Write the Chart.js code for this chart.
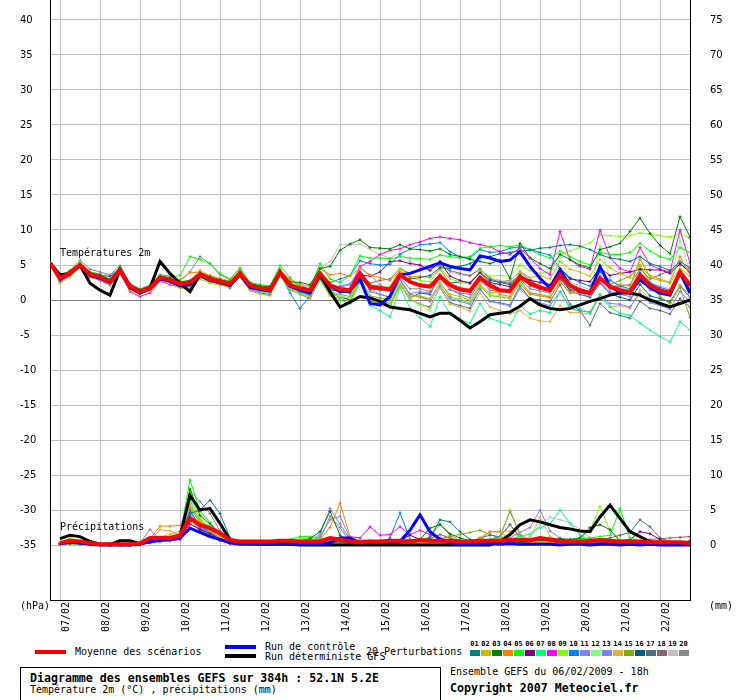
<!DOCTYPE html>
<html lang="fr">
<head>
<meta charset="utf-8">
<title>Diagramme des ensembles GEFS</title>
<script src="https://cdn.jsdelivr.net/npm/chart.js@4.4.1/dist/chart.umd.min.js"></script>
<style>
  body { margin: 0; background: #fff; color: #000; font-family: "DejaVu Sans Mono", monospace; }
  #page { position: relative; width: 740px; height: 700px; overflow: hidden; }
  #chartBox { position: absolute; left: 0; top: 0; width: 740px; height: 640px; }
  .t { position: absolute; white-space: pre; font-size: 10px; line-height: 12px; }
  .b { font-weight: bold; font-size: 11.6px; line-height: 14px; }
  .ln { position: absolute; width: 31px; height: 4px; }
  .sw { position: absolute; top: 650px; width: 10px; height: 6px; }
  .sn { position: absolute; top: 640px; width: 11px; text-align: center; font-size: 7px; font-weight: bold; line-height: 8px; }
  #titleBox { position: absolute; left: 20px; top: 667px; width: 419px; height: 40px; border: 1px solid #000; }
</style>
</head>
<body>
<div id="page">
  <div id="chartBox"><canvas id="ensChart" width="740" height="640"></canvas></div>
  <div class="t" style="left:20px;top:600px">(hPa)</div>
  <div class="t" style="left:709px;top:600px">(mm)</div>

  <div class="ln" style="left:35px;top:650px;background:#ff0000"></div>
  <div class="t" style="left:75px;top:646px">Moyenne des scénarios</div>
  <div class="ln" style="left:225px;top:645px;background:#0000ff"></div>
  <div class="t" style="left:265px;top:641px">Run de contrôle</div>
  <div class="ln" style="left:225px;top:654px;background:#000"></div>
  <div class="t" style="left:265px;top:651px">Run déterministe GFS</div>
  <div class="t" style="left:366px;top:646px">20 Perturbations</div>
  <div id="swatches"></div>

  <div id="titleBox"></div>
  <div class="t b" style="left:30px;top:671px">Diagramme des ensembles GEFS sur 384h : 52.1N 5.2E</div>
  <div class="t" style="left:30px;top:684px">Température 2m (°C) , précipitations (mm)</div>
  <div class="t" style="left:450px;top:666px">Ensemble GEFS du 06/02/2009 - 18h</div>
  <div class="t b" style="left:450px;top:681px">Copyright 2007 Meteociel.fr</div>
</div>
<script>
// Forecast hours (6-hourly, run of 06/02 18h)
const hours = [0,6,12,18,24,30,36,42,48,54,60,66,72,78,84,90,96,102,108,114,120,126,132,138,144,150,156,162,168,174,180,186,192,198,204,210,216,222,228,234,240,246,252,258,264,270,276,282,288,294,300,306,312,318,324,330,336,342,348,354,360,366,372,378,384];
const dayHours = [6,30,54,78,102,126,150,174,198,222,246,270,294,318,342,366];
const dayLabels = ["07/02","08/02","09/02","10/02","11/02","12/02","13/02","14/02","15/02","16/02","17/02","18/02","19/02","20/02","21/02","22/02"];
const tempTicks = [-35,-30,-25,-20,-15,-10,-5,0,5,10,15,20,25,30,35,40];
const precipTicks = [0,5,10,15,20,25,30,35,40,45,50,55,60,65,70,75];

const pertColors = ["#008080","#c0c000","#008000","#ff8000","#00ff00","#800080","#00ff80","#ff00ff","#80ff00","#0080ff",
                    "#8080ff","#80ff80","#8080f0","#e0b040","#80b000","#006080","#507080","#806870","#c0c0c0","#888888"];

// Temperature 2m (°C)
const tempMean = [5.3, 3.1,3.9,5.0,3.7, 3.3,2.6,4.3,1.9, 1.2,1.7,3.2,2.9, 2.3,2.5,3.7,3.0, 2.6,2.3,3.8,2.1, 1.7,1.5,4.0,2.1,
  1.7,1.4,3.8,2.1, 1.5,1.4,3.8,1.9, 1.7,1.5,3.6,2.6, 2.1,1.9,3.4,2.1, 1.5,1.3,3.2,2.1, 1.4,1.3,3.3,2.4, 1.8,1.4,3.6,2.1, 1.4,1.0,3.1,1.9, 1.4,1.1,3.6,2.1, 1.4,1.0,4.0,2.1];
const tempControl = [5.3, 3.0,3.8,5.0,3.5, 3.1,2.5,4.4,1.8, 1.0,1.6,3.0,2.7, 2.0,2.2,3.5,2.8, 2.5,2.1,3.6,1.8, 1.5,1.3,3.9,2.0,
  1.4,1.0,3.6,2.0, 1.2,1.3,3.0,-0.5, -0.7,0.5,3.6,3.8, 4.3,4.8,5.3,4.8, 4.5,4.3,6.3,6.0, 5.5,5.7,6.9,4.8, 3.1,1.7,4.3,2.1, 1.2,1.0,4.8,1.9, 1.1,1.0,2.9,1.8, 1.0,0.7,3.9,1.0];
const tempDeterministic = [5.3, 3.6,3.8,5.0,2.4, 1.4,0.7,4.3,1.8, 1.1,1.7,5.5,3.8, 2.4,1.2,3.6,2.9, 2.5,2.2,3.7,2.0, 1.6,1.4,3.9,2.0,
  1.6,1.3,3.6,1.2, -1.0,-0.3,0.5,0.3, -0.2,-1.0,-1.2,-1.4, -1.9,-2.4,-1.9,-1.9, -2.9,-4.0,-3.1,-2.1, -1.9,-1.7,-0.9,0.2, -0.7,-1.2,-1.4,-1.2, -0.7,-0.2,0.2,0.7, 1.0,1.0,0.7,0.0, -0.5,-1.0,-0.5,0.0];
const tempPerturbations = [
  [5.3, 2.8,3.6,4.8,3.4, 3.1,2.4,4.0,1.6, 1.0,1.5,3.0,2.6, 2.0,2.2,3.4,2.8, 2.4,2.0,3.6,1.8, 1.4,1.2,3.8,2.2,
   1.2,0.9,3.1,1.5, 1.2,1.0,3.2,1.6, 1.4,1.5,3.5,3.0, 3.2,3.5,4.6,4.5, 4.8,5.2,6.0,6.2, 6.6,6.8,7.0,7.1, 7.4,7.5,7.8,7.9, 7.7,7.2,6.5,6.0, 5.8,5.5,6.2,5.2, 4.8,4.2,5.5,4.6],
  [5.3, 2.4,3.3,4.6,3.2, 2.9,2.3,3.9,1.4, 0.8,1.3,2.8,2.4, 1.7,1.6,3.0,2.4, 2.1,1.8,3.3,1.3, 0.9,0.6,3.4,1.5,
   0.9,0.4,2.8,0.6, 0.2,-0.2,2.6,0.0, -0.6,-1.0,2.0,0.4, 0.6,0.2,2.4,0.8, 0.5,0.0,2.2,1.0, 1.2,1.5,4.0,3.2, 3.5,3.0,5.5,4.4, 4.0,3.4,5.8,4.6, 3.8,3.2,4.8,3.5, 3.0,2.4,4.5,3.4],
  [5.3, 3.3,4.1,5.2,3.9, 3.6,2.9,4.6,2.2, 1.5,2.0,3.4,3.1, 2.6,2.8,3.9,3.3, 2.9,2.6,4.0,2.4, 2.0,1.9,4.3,2.6,
   2.5,2.2,4.5,4.8, 7.1,8.0,8.6,7.5, 7.4,7.3,7.9,7.3, 7.2,7.0,7.3,6.5, 6.2,5.8,5.5,5.2, 5.7,3.1,8.1,6.0, 5.2,4.5,6.5,5.8, 5.0,4.6,7.2,7.6, 8.1,9.8,11.7,9.5, 7.8,6.6,11.9,9.0],
  [5.3, 3.2,4.0,5.1,3.8, 3.4,2.8,4.4,2.0, 1.4,1.9,3.3,2.7, 2.9,3.9,4.0,3.5, 3.1,2.7,4.2,2.3, 1.8,1.6,4.2,3.0,
   2.2,2.0,4.5,3.6, 3.8,3.4,4.6,3.5, 3.2,2.8,4.1,3.3, 3.4,3.2,4.4,2.4, 1.8,1.5,3.2,1.8, 0.8,0.5,2.8,1.0, 0.8,0.4,2.5,1.2, 1.0,0.8,3.0,1.8, 2.2,2.0,5.8,3.2, 2.8,2.5,6.2,3.5],
  [5.3, 3.4,4.2,5.3,4.0, 3.7,3.0,4.7,2.1, 1.3,1.8,3.5,3.2, 3.5,6.2,5.8,5.2, 3.8,3.0,4.6,2.5, 2.2,2.0,4.9,3.2,
   1.8,1.6,5.2,3.0, 2.5,3.5,6.3,6.0, 6.0,5.9,6.2,6.0, 5.9,5.8,6.4,6.2, 6.0,6.2,7.4,7.6, 7.8,7.6,7.9,7.2, 6.5,6.0,7.0,6.2, 5.5,5.0,6.8,6.5, 6.5,6.8,8.1,7.0, 6.2,5.8,7.5,6.8],
  [5.3, 3.0,3.8,4.9,3.5, 3.2,2.5,4.2,1.8, 1.1,1.6,3.1,2.8, 2.1,2.3,3.5,2.9, 2.5,2.2,3.7,2.0, 1.6,1.4,3.9,2.4,
   1.6,1.2,3.7,2.0, 1.4,1.3,3.6,3.4, 4.0,5.5,5.6,5.2, 5.0,4.2,5.5,3.4, 2.8,2.4,3.9,2.5, 2.2,1.9,3.5,2.8, 2.5,2.2,4.5,3.0, 2.8,2.6,4.6,3.5, 3.8,4.0,4.4,4.3, 4.3,3.8,5.2,4.0],
  [5.3, 2.9,3.7,4.8,3.6, 3.0,2.2,4.1,1.7, 0.9,1.4,2.9,2.5, 1.9,2.0,3.2,2.6, 2.2,1.9,3.4,1.7, 1.2,0.9,3.6,1.4,
   1.0,0.5,3.0,0.8, 0.0,-0.5,2.5,-0.8, -1.5,-2.4,1.8,-1.2, -2.5,-3.8,0.5,-2.0, -2.8,-3.3,-0.5,-2.6, -3.1,-3.6,-0.8,-2.0, -1.5,-1.8,1.2,-0.9, -1.2,-1.9,0.8,-1.0, -1.9,-2.2,-3.3,-4.3, -5.2,-6.0,-3.1,-4.3],
  [5.3, 2.7,3.5,4.7,3.3, 2.8,2.1,3.8,1.2, 0.5,1.0,2.7,2.2, 1.8,1.9,3.3,2.7, 2.3,1.7,3.5,1.5, 1.0,0.8,3.5,1.9,
   1.5,1.1,3.6,2.3, 1.8,1.6,4.8,5.5, 6.5,7.1,7.3,7.9, 8.3,8.8,9.0,8.8, 8.6,8.2,7.9,7.6, 6.9,6.5,7.4,6.0, 4.5,3.6,9.8,5.7, 4.8,4.4,10.0,6.1, 4.5,4.0,7.5,5.0, 4.4,4.0,10.0,5.3],
  [5.3, 3.3,4.0,5.1,3.8, 3.5,2.7,4.4,2.0, 1.4,1.9,3.3,3.0, 2.5,2.6,3.8,3.2, 2.8,2.5,4.1,2.3, 1.9,1.7,4.1,2.8,
   1.9,1.5,4.1,2.4, 1.6,1.5,4.0,2.2, 2.0,1.8,4.5,3.3, 2.8,2.6,4.6,3.0, 2.6,2.3,4.2,3.4, 3.5,3.4,5.0,4.2, 3.8,4.0,6.5,7.0, 7.5,8.2,9.3,9.2, 9.1,9.2,9.6,9.4, 9.2,9.0,9.5,8.8],
  [5.3, 3.1,3.9,5.0,3.6, 3.3,2.6,4.3,1.9, 1.2,1.7,3.2,2.9, 2.2,2.4,3.6,3.0, 2.6,2.3,3.9,2.1, 1.5,1.3,3.8,1.0,
   -1.2,0.6,3.5,2.5, 3.0,3.5,5.6,5.2, 5.0,5.1,6.5,7.3, 7.9,8.0,8.2,6.9, 6.2,6.0,7.2,6.8, 6.9,7.4,7.6,7.2, 6.8,6.4,4.5,3.2, 2.5,2.0,4.0,2.8, 2.0,1.6,3.9,2.5, 1.8,1.4,3.5,2.2],
  [5.3, 2.6,3.4,4.7,3.4, 3.0,2.3,3.9,1.5, 0.9,1.4,2.9,2.5, 1.9,2.1,3.3,2.7, 2.3,1.9,3.4,1.6, 1.3,1.0,3.7,1.7,
   0.8,0.2,2.8,1.2, 1.8,2.2,4.6,3.6, 2.2,1.3,3.0,0.8, 0.5,-0.2,2.0,0.2, -0.2,-0.6,1.5,-0.2, -0.5,-0.9,1.6,0.2, -0.4,-0.8,1.2,-1.2, -1.6,-1.7,0.8,-0.5, -0.6,-1.0,1.0,-0.4, -0.8,-1.3,1.2,-0.3],
  [5.3, 3.2,4.0,5.0,3.8, 3.4,2.7,4.4,2.0, 1.3,1.8,3.3,3.0, 2.4,2.6,3.8,3.1, 2.7,2.4,3.9,2.2, 1.8,1.6,4.1,2.5,
   1.3,1.0,3.4,1.4, 0.6,0.2,2.9,0.4, -0.2,-0.6,2.6,0.2, -0.8,-1.5,2.0,0.0, 0.2,-0.4,2.4,0.8, 0.6,0.3,2.6,1.0, 0.8,0.6,6.5,2.4, 1.2,0.8,7.8,3.0, 2.0,1.5,6.0,3.4, 3.0,2.5,8.5,4.2],
  [5.3, 2.9,3.7,4.9,3.5, 3.1,2.4,4.1,1.7, 1.0,1.5,3.0,2.7, 2.0,2.2,3.4,2.8, 2.4,2.1,3.6,1.9, 1.5,1.3,3.8,1.6,
   1.4,1.1,3.6,1.8, 2.0,2.3,3.9,1.2, 0.8,0.4,2.6,0.9, 1.2,1.0,3.0,1.5, 1.0,0.8,2.8,1.4, 1.2,1.0,3.0,1.6, 1.3,1.0,3.2,1.8, 1.0,0.6,2.6,1.2, 0.8,0.5,3.0,1.4, 1.0,0.6,3.4,1.6],
  [5.3, 3.0,3.8,4.9,3.6, 3.2,2.5,4.2,1.8, 1.1,1.6,3.1,2.8, 2.3,2.7,4.3,3.4, 2.7,2.2,3.7,2.0, 1.6,1.3,3.8,2.0,
   1.1,0.6,3.2,1.0, 0.5,0.3,3.0,0.2, -0.8,-1.0,2.2,0.2, -0.5,-1.2,1.8,-0.6, -1.0,-1.6,1.0,-1.0, -1.5,-2.0,-1.5,-2.6, -3.0,-3.1,-0.8,-1.8, -1.8,-2.0,0.5,-1.0, -0.8,-1.2,1.5,0.2, -0.5,-0.8,2.2,0.6],
  [5.3, 2.9,3.6,4.8,3.5, 3.1,2.5,4.1,1.7, 1.0,1.5,3.0,2.7, 2.1,2.3,3.5,2.8, 2.4,2.0,3.5,1.8, 1.4,1.1,3.6,1.9,
   1.0,0.7,3.2,1.1, 0.8,0.5,3.1,0.6, 0.3,0.0,2.8,0.8, 0.4,0.1,2.5,0.5, 0.0,-0.4,2.0,0.6, 0.5,0.2,2.4,0.8, 0.6,0.3,2.6,1.0, 1.0,0.8,3.4,2.2, 2.8,3.4,5.0,2.4, 0.5,-0.5,1.8,-2.5],
  [5.3, 3.1,3.9,5.0,3.7, 3.5,3.4,4.4,2.0, 1.2,1.7,3.2,2.9, 2.4,2.5,3.6,3.0, 2.6,2.3,3.8,2.2, 1.7,1.5,4.0,2.3,
   1.2,0.8,3.3,1.3, 0.6,0.0,2.7,-0.1, -0.5,-0.8,2.4,0.3, 1.0,0.8,3.6,2.4, 2.6,2.5,4.0,2.8, 2.5,2.2,3.6,2.2, 1.6,1.2,3.0,1.4, 0.8,0.4,2.4,0.9, 0.4,0.0,2.2,0.6, 0.2,-0.3,2.0,0.4],
  [5.3, 3.0,3.8,4.9,3.6, 3.3,2.7,4.3,1.9, 1.2,1.7,3.2,2.9, 2.3,2.4,3.6,2.9, 2.5,2.2,3.7,2.0, 1.6,1.4,3.9,2.0,
   1.1,0.7,3.1,1.0, 0.4,0.0,2.8,0.3, -0.2,-0.5,2.3,0.0, -0.6,-1.0,1.8,-0.4, -0.8,-1.2,1.6,-0.2, -0.4,-0.7,2.0,0.2, 0.0,-0.3,2.2,-0.6, -1.5,-3.6,-0.5,-1.8, -2.2,-2.6,-0.2,-1.2, -1.5,-2.0,0.2,-1.0],
  [5.3, 3.2,4.0,5.1,3.8, 3.4,2.8,4.5,2.1, 1.4,1.8,3.3,3.0, 2.4,2.6,3.8,3.1, 2.7,2.4,3.9,2.2, 1.8,1.6,4.1,2.2,
   1.6,1.3,3.7,2.0, 1.4,1.2,3.6,2.4, 2.8,3.0,4.5,3.8, 4.4,4.6,4.9,4.2, 3.8,3.5,4.4,3.0, 2.6,2.4,3.6,2.0, 1.5,1.3,3.2,1.5, 1.2,0.9,3.0,1.6, 2.0,2.2,4.4,3.0, 3.6,4.2,5.0,4.4],
  [5.3, 3.0,3.9,5.1,3.9, 3.8,3.5,4.6,2.2, 1.5,2.0,3.4,3.1, 2.5,2.7,3.9,3.3, 2.9,2.6,4.1,2.4, 2.0,1.8,4.2,2.7,
   2.0,1.8,4.6,5.5, 7.9,7.9,8.0,7.2, 6.5,6.0,6.8,5.5, 4.8,4.3,5.6,4.0, 3.6,3.4,4.5,3.2, 2.8,2.6,4.2,3.0, 2.5,2.0,3.8,2.6, 2.0,1.5,3.4,2.2, 1.8,1.4,3.6,2.3, 2.0,1.6,4.2,2.8],
  [5.3, 3.4,4.2,5.7,4.4, 4.0,3.6,4.9,2.4, 1.6,2.1,3.6,3.4, 2.7,4.0,6.2,5.2, 3.6,2.9,4.4,2.4, 2.0,1.8,4.3,2.6,
   1.5,1.2,3.6,1.8, 1.2,1.0,3.5,1.5, 0.8,0.4,3.2,1.6, 1.6,1.2,3.4,1.5, 0.8,0.3,2.6,1.8, 2.6,2.8,4.0,2.8, 2.0,1.4,3.6,2.2, 1.6,1.2,3.4,2.0, 1.4,1.0,3.6,2.0, 1.2,0.8,3.8,1.8]
];

// Precipitation (mm per 6h), from +6h to +384h
const precipMean = [0.3,0.6,0.5,0.3,0.1,0.1,0.1,0.1, 0.2,1.0,1.0,1.0,1.4,3.8,2.9,2.4, 1.7,0.7,0.5,0.5,0.5,0.5,0.6,0.6, 0.5,0.5,0.5,1.0,0.8,0.5,0.4,0.5,
  0.5,0.6,0.6,0.5,0.7,0.6,0.6,0.6, 0.5,0.5,0.6,0.6,0.6,0.7,0.7,0.7, 1.0,0.8,0.6,0.5,0.5,0.6,0.7,0.6, 0.5,0.5,0.5,0.4,0.4,0.4,0.4,0.3];
const precipControl = [0.2,0.4,0.3,0.1,0,0,0,0, 0.1,0.5,0.7,0.8,1.0,2.4,1.8,1.2, 0.8,0.3,0.1,0.1,0.1,0.1,0.1,0.1, 0.1,0.1,0.2,0.3,1.0,1.0,0.3,0.4,
  0.5,0.4,0.5,2.1,4.3,1.9,0.8,0.3, 0.2,0.1,0.1,0.2,0.1,0.2,0.1,0.1, 0.1,0.1,0,0.1,0.1,0,0.1,0.1, 0,0.1,0,0.1,0,0,0,0];
const precipDeterministic = [0.9,1.4,1.2,0.5,0.1,0.1,0.6,0.6, 0.2,0.8,1.0,0.9,1.2,7.1,5.0,5.2, 3.1,0.7,0.3,0.2,0.1,0.1,0.1,0.1, 0,0,0,0,0,0,0,0,
  0,0,0,0,0,0,0,0, 0,0,0,0,0.5,1.5,2.9,3.6, 3.3,2.9,2.5,2.3,2.0,1.9,4.0,5.7, 3.8,1.9,1.2,0.5,0.2,0.1,0.1,0.1];
const precipPerturbations = [
  [0.2,0.4,0.3,0.1,0,0,0.1,0.1, 0.2,0.5,0.6,0.8,1.2,4.5,5.0,6.4, 4.5,1.0,0.3,0.2,0.2,0.3,0.3,0.2, 0.1,0.2,0.3,0.5,0.4,0.2,0.1,0.2, 0.3,0.2,0.3,0.5,0.6,1.0,3.6,3.3, 1.9,0.8,0.5,0.4,0.3,0.4,0.5,0.6, 0.8,0.6,0.5,0.4,0.3,0.2,0.3,0.2, 0.2,0.1,0.2,0.3,0.2,0.1,0.1,0.1],
  [0.3,1.0,0.6,0.2,0,0,0,0.1, 0.3,0.8,1.2,1.5,2.0,5.8,3.5,2.2, 1.2,0.4,0.2,0.1,0.1,0.2,0.2,0.1, 0.2,0.3,0.4,0.6,0.3,0.2,0.2,0.1, 0.1,0.2,0.2,0.1,0.1,0.2,0.3,0.2, 0.4,0.6,0.8,0.7,1.0,5.0,1.6,0.6, 0.4,0.3,0.2,0.2,0.3,0.2,0.1,0.2, 0.1,0.1,0,0.1,0.2,0.1,0,0.1],
  [0.2,0.3,0.2,0.1,0,0,0,0, 0.1,0.6,0.8,0.9,1.2,8.0,4.2,3.0, 1.6,0.5,0.2,0.1,0.2,0.2,0.3,0.4, 0.6,0.9,1.9,4.8,1.4,0.5,0.3,0.4, 0.3,0.5,0.4,0.6,0.8,2.4,2.9,1.6, 1.0,0.6,0.5,0.4,0.3,0.2,0.3,0.5, 0.6,0.8,0.9,0.8,1.0,2.5,2.9,2.2, 0.5,0.3,0.2,0.2,0.1,0.1,0.1,0.1],
  [0.1,0.3,0.2,0.1,0,0,0,0.1, 0.3,0.9,2.7,2.7,2.8,5.5,3.2,2.0, 1.0,0.3,0.2,0.1,0.1,0.2,0.2,0.2, 0.3,0.5,0.8,2.5,6.0,1.2,0.4,0.3, 0.2,0.2,0.3,0.2,0.3,0.4,0.2,0.3, 0.4,0.5,1.0,1.9,1.9,0.8,0.5,0.4, 0.3,0.3,0.2,0.2,0.3,0.2,0.2,0.3, 0.2,0.3,0.2,0.3,0.2,0.1,0.2,0.2],
  [0.2,0.4,0.3,0.2,0,0,0,0, 0.2,0.5,0.8,1.0,1.5,9.3,4.8,3.2, 1.5,0.8,0.4,0.4,0.5,0.3,0.3,0.8, 1.2,1.2,1.0,0.6,0.4,0.3,0.5,0.6, 0.5,0.4,0.5,0.6,0.4,0.5,0.4,0.3, 0.3,0.2,0.3,0.3,0.2,0.3,0.4,0.6, 0.5,0.4,0.6,0.8,0.9,1.0,1.2,1.4, 5.2,1.0,0.6,0.4,0.3,0.2,0.1,0.1],
  [0.1,0.2,0.2,0.1,0,0,0,0, 0.1,0.4,0.6,0.7,0.9,3.0,2.2,1.6, 0.8,0.3,0.1,0.1,0.1,0.1,0.2,0.2, 0.2,0.1,0.2,0.3,0.4,0.2,0.1,0.2, 0.3,0.4,0.6,1.4,0.8,0.6,0.5,0.4, 0.3,0.2,0.3,0.2,0.2,0.3,0.2,0.2, 0.3,0.4,0.3,0.2,0.3,0.2,0.3,0.4, 0.6,0.8,1.9,1.6,0.8,0.3,0.2,0.1],
  [0.1,0.2,0.1,0.1,0,0,0,0, 0.2,0.5,0.7,0.8,1.0,6.5,3.0,2.0, 1.0,0.4,0.2,0.1,0.1,0.1,0.1,0.2, 0.2,0.3,0.2,0.3,0.2,0.2,0.3,0.2, 0.2,0.3,0.2,0.3,0.4,0.3,0.2,0.3, 0.2,0.2,0.4,0.3,0.6,0.9,1.2,1.6, 2.5,3.0,5.0,3.1,1.4,0.6,0.4,0.3, 0.2,0.1,0.1,0.2,0.1,0.1,0,0],
  [0.2,0.3,0.3,0.2,0,0,0,0, 0.1,0.3,0.5,0.6,0.8,2.5,1.8,1.2, 0.6,0.2,0.1,0.1,0.2,0.2,0.3,0.2, 0.3,0.2,0.4,0.5,0.6,1.2,1.0,2.6, 1.4,1.5,2.6,1.5,2.1,1.5,1.0,0.6, 0.4,0.3,0.2,0.3,0.2,0.3,0.4,0.2, 0.2,0.3,0.2,0.1,0.2,0.3,0.2,0.1, 0.1,0.2,0.1,0.1,0.2,0.1,0.1,0],
  [0.1,0.2,0.2,0.1,0,0,0,0, 0.2,0.6,0.8,0.9,1.2,7.5,3.8,2.5, 1.2,0.6,0.3,0.3,0.4,0.3,0.3,0.5, 0.9,1.0,0.8,0.5,0.4,0.3,0.3,0.4, 0.3,0.2,0.3,0.2,0.3,0.2,0.3,0.4, 0.5,0.6,0.5,0.8,1.0,1.5,1.2,0.8, 0.6,0.5,0.4,0.6,1.0,2.0,5.5,2.0, 0.8,0.6,0.5,0.4,0.6,0.5,0.3,0.2],
  [0.2,0.3,0.2,0.1,0,0,0,0, 0.2,0.4,0.6,0.8,1.0,5.0,2.6,1.8, 1.0,0.3,0.2,0.1,0.1,0.1,0.2,0.1, 0.1,0.2,0.2,0.3,0.5,0.3,0.2,0.2, 0.3,1.0,4.6,0.8,0.6,0.4,0.3,0.2, 0.3,0.5,1.0,1.4,1.2,4.8,1.5,0.6, 0.4,0.3,0.2,0.2,0.3,0.2,0.1,0.2, 0.1,0.1,0,0.1,0.1,0,0,0.1],
  [0.1,0.3,0.2,0.1,0,0,0,0, 0.1,0.5,0.6,0.8,1.0,4.0,2.5,1.6, 0.8,0.3,0.2,0.1,0.2,0.2,0.2,0.3, 0.4,0.6,1.5,5.2,3.0,0.8,0.3,0.2, 0.2,0.3,0.2,0.3,0.4,0.3,0.2,0.3, 0.4,0.3,0.5,0.4,0.6,1.0,1.8,2.5, 5.0,2.0,1.0,0.6,0.4,0.3,0.2,0.3, 0.2,0.3,0.2,0.2,0.1,0.1,0.1,0.1],
  [0.2,0.3,0.2,0.1,0,0,0,0, 0.2,0.4,0.5,0.7,0.9,6.0,2.8,1.5, 0.8,0.4,0.3,0.4,0.6,0.4,0.3,0.3, 0.4,0.5,0.4,0.6,0.5,0.4,0.8,0.7, 0.6,0.5,0.6,0.8,0.9,0.6,0.5,0.4, 0.3,0.4,0.3,0.4,0.3,0.4,0.5,0.4, 0.3,0.4,0.5,0.6,0.8,0.7,0.6,0.5, 0.4,0.3,0.5,0.6,0.5,0.4,0.3,0.2],
  [0.2,0.2,0.2,0.1,0,0,0,0, 0.1,0.3,0.5,0.6,0.8,4.5,3.0,1.8, 0.9,0.3,0.2,0.1,0.1,0.2,0.1,0.2, 0.2,0.4,1.2,3.6,4.1,1.0,0.4,0.3, 0.2,0.3,0.2,0.3,0.5,0.4,0.3,0.2, 0.2,0.3,0.4,0.3,0.4,0.6,0.5,0.4, 0.5,0.4,0.3,0.2,0.3,0.2,0.2,0.3, 0.3,0.2,0.3,0.2,0.2,0.1,0.1,0.1],
  [0.1,0.2,0.2,0.1,0,0,0,0, 0.2,0.6,2.2,2.0,1.4,5.2,3.3,2.1, 1.0,0.4,0.2,0.1,0.1,0.1,0.1,0.2, 0.2,0.2,0.3,0.5,0.4,0.3,0.2,0.1, 0.1,0.2,0.1,0.2,0.2,0.3,0.2,0.3, 0.2,0.4,0.6,1.9,1.9,2.0,1.0,0.8, 4.0,1.2,0.5,0.3,0.2,0.2,0.1,0.2, 0.1,0.1,0.1,0,0.1,0,0,0],
  [0.1,0.2,0.1,0.1,0,0,0,0, 0.1,0.4,0.6,0.7,1.0,3.5,2.0,1.4, 0.7,0.3,0.2,0.2,0.2,0.3,0.2,0.2, 0.3,0.2,0.3,0.4,0.3,0.2,0.2,0.3, 0.2,0.3,0.4,0.3,0.5,0.6,0.9,1.2, 1.5,1.8,2.1,1.5,1.0,0.6,0.5,0.4, 0.3,0.4,0.3,0.5,0.4,0.6,0.5,0.4, 0.3,0.4,0.3,0.2,0.2,0.1,0.1,0.1],
  [0.2,0.3,0.2,0.1,0,0,0,0, 0.2,0.5,0.7,0.8,1.1,4.2,2.4,1.7, 0.9,0.3,0.2,0.1,0.1,0.1,0.2,0.2, 0.2,0.3,0.2,0.4,0.3,0.2,0.1,0.2, 0.2,0.3,0.4,0.6,0.5,0.4,0.6,0.5, 0.4,0.3,0.2,0.3,0.4,0.3,0.2,0.3, 0.2,0.3,0.2,0.3,0.2,0.1,0.2,0.1, 0.1,0.2,0.1,0.2,0.3,0.2,0.3,0.6],
  [0.1,0.2,0.2,0.1,0,0,0,0, 0.1,0.4,0.6,0.7,0.9,3.8,2.2,1.5, 0.7,0.3,0.1,0.1,0.1,0.2,0.1,0.1, 0.2,0.1,0.2,0.3,0.2,0.2,0.1,0.2, 0.1,0.2,0.3,0.2,0.3,0.2,0.4,0.3, 0.2,0.3,0.2,0.3,0.2,0.3,0.4,0.3, 0.4,0.3,0.2,0.3,0.4,0.5,0.8,1.0, 1.4,1.8,3.6,2.6,1.0,0.5,0.3,0.2],
  [0.2,0.3,0.2,0.1,0,0,0,0, 0.2,0.4,0.6,0.8,1.0,4.8,2.7,1.9, 1.0,0.4,0.2,0.1,0.2,0.2,0.3,0.3, 0.3,0.2,0.3,0.4,0.5,0.3,0.2,0.3, 0.3,0.2,0.3,0.4,0.6,0.9,1.5,1.0, 0.6,0.5,0.6,0.8,1.2,2.9,1.2,0.6, 0.4,0.3,0.2,0.3,0.2,0.3,0.4,0.5, 0.4,0.5,0.6,0.8,0.9,1.0,1.1,1.2],
  [0.2,0.3,0.3,0.2,0,0,0,0, 0.3,0.6,0.8,1.0,1.4,6.8,3.6,2.6, 1.4,0.5,0.3,0.2,0.2,0.2,0.3,0.3, 0.4,0.5,1.0,3.8,2.2,0.6,0.3,0.2, 0.2,0.2,0.3,0.2,0.3,0.4,0.3,0.2, 0.3,0.2,0.3,0.4,0.5,0.6,0.5,1.2, 3.0,4.0,3.6,3.2,2.2,1.0,0.5,0.3, 0.2,0.2,0.1,0.2,0.1,0.1,0.1,0],
  [0.3,0.4,0.3,0.2,0,0,0,0.1, 0.3,2.2,0.7,0.9,1.3,7.8,6.2,4.5, 2.0,0.6,0.3,0.2,0.2,0.3,0.3,0.3, 0.3,0.4,0.8,4.1,2.5,0.6,0.3,0.2, 0.3,0.2,0.3,0.4,0.6,1.2,3.0,1.4, 0.6,0.4,0.5,0.8,1.2,2.9,1.0,0.6, 0.4,0.3,0.2,0.2,0.3,0.2,0.3,0.2, 0.2,0.3,0.2,0.3,0.2,0.2,0.1,0.1]
];

// Legend swatches for the 20 perturbations
const swBox = document.getElementById("swatches");
pertColors.forEach((c, i) => {
  const left = 470 + i * 11;
  swBox.insertAdjacentHTML("beforeend",
    `<div class="sn" style="left:${left - 1}px">${String(i + 1).padStart(2, "0")}</div>` +
    `<div class="sw" style="left:${left}px;background:${c}"></div>`);
});

function lineSet(values, color, width, axis, order, withPoints) {
  return {
    data: values,
    borderColor: color,
    backgroundColor: color,
    borderWidth: width,
    pointRadius: withPoints ? 1.5 : 0,
    pointStyle: "cross",
    pointBorderWidth: 1,
    yAxisID: axis,
    order: order
  };
}

const datasets = [];
datasets.push(lineSet(tempMean, "#ff0000", 4, "yT", 0, false));
datasets.push(lineSet(tempControl, "#0000ff", 3, "yT", 1, false));
datasets.push(lineSet(tempDeterministic, "#000000", 3, "yT", 2, false));
datasets.push(lineSet([null].concat(precipMean), "#ff0000", 4, "yP", 0, false));
datasets.push(lineSet([null].concat(precipControl), "#0000ff", 3, "yP", 1, false));
datasets.push(lineSet([null].concat(precipDeterministic), "#000000", 3, "yP", 2, false));
tempPerturbations.forEach((p, i) => datasets.push(lineSet(p, pertColors[i], 1, "yT", 3, true)));
precipPerturbations.forEach((p, i) => datasets.push(lineSet([null].concat(p), pertColors[i], 1, "yP", 3, true)));

// Pin the plot box to the same place as the original picture
const plotBox = { left: 50, right: 690, top: 0, bottom: 600 };
const fixArea = {
  id: "fixArea",
  afterLayout(chart) {
    const a = chart.chartArea;
    a.left = plotBox.left; a.right = plotBox.right; a.top = plotBox.top; a.bottom = plotBox.bottom;
    a.width = plotBox.right - plotBox.left; a.height = plotBox.bottom - plotBox.top;
    const { x, yT, yP } = chart.scales;
    Object.assign(x, { left: plotBox.left, right: plotBox.right, width: a.width, top: plotBox.bottom, bottom: 640, height: 40 });
    Object.assign(yT, { left: 20, right: plotBox.left, width: 30, top: plotBox.top, bottom: plotBox.bottom, height: a.height });
    Object.assign(yP, { left: plotBox.right, right: 740, width: 50, top: plotBox.top, bottom: plotBox.bottom, height: a.height });
    [x, yT, yP].forEach(s => s.configure());
  }
};

// Text inside the plot
const innerLabels = {
  id: "innerLabels",
  beforeDatasetsDraw(chart) {
    const ctx = chart.ctx;
    ctx.save();
    ctx.font = '10px "DejaVu Sans Mono"';
    ctx.fillStyle = "#000";
    ctx.textBaseline = "middle";
    ctx.fillText("Températures 2m", chart.chartArea.left + 10, chart.scales.yT.getPixelForValue(6.7));
    ctx.fillText("Précipitations", chart.chartArea.left + 10, chart.scales.yP.getPixelForValue(2.45));
    ctx.restore();
  }
};

const tickFont = { family: "DejaVu Sans", size: 10 };

new Chart(document.getElementById("ensChart"), {
  type: "line",
  data: { labels: hours, datasets: datasets },
  plugins: [fixArea, innerLabels],
  options: {
    responsive: false,
    animation: false,
    events: [],
    layout: { padding: { left: 20, right: 0, top: 0, bottom: 0 } },
    elements: { line: { tension: 0 } },
    plugins: { legend: { display: false }, tooltip: { enabled: false } },
    scales: {
      x: {
        type: "linear",
        min: 0,
        max: 384,
        afterBuildTicks: s => { s.ticks = dayHours.map(v => ({ value: v })); },
        afterFit: s => { s.height = 40; s.paddingLeft = 0; s.paddingRight = 0; },
        ticks: {
          autoSkip: false,
          minRotation: 90,
          maxRotation: 90,
          padding: 2,
          labelOffset: 6,
          color: "#000",
          font: { family: "DejaVu Sans Mono", size: 10 },
          callback: v => dayLabels[dayHours.indexOf(v)]
        },
        grid: { color: "#c0c0c0", drawTicks: false },
        border: { color: "#000" }
      },
      yT: {
        type: "linear",
        position: "left",
        min: -300 / 7,
        max: 300 / 7,
        afterBuildTicks: s => { s.ticks = tempTicks.map(v => ({ value: v })); },
        afterFit: s => { s.width = 30; s.paddingTop = 0; s.paddingBottom = 0; },
        ticks: { crossAlign: "far", padding: 0, color: "#000", font: tickFont },
        grid: {
          drawTicks: false,
          color: c => (c.tick && c.tick.value === 0 ? "#808080" : "#c0c0c0")
        },
        border: { color: "#000" }
      },
      yP: {
        type: "linear",
        position: "right",
        min: -55 / 7,
        max: 545 / 7,
        afterBuildTicks: s => { s.ticks = precipTicks.map(v => ({ value: v })); },
        afterFit: s => { s.width = 50; s.paddingTop = 0; s.paddingBottom = 0; },
        ticks: { padding: 20, color: "#000", font: tickFont },
        grid: { drawTicks: false, color: "rgba(0,0,0,0)" },
        border: { color: "#000" }
      }
    }
  }
});
</script>
</body>
</html>
